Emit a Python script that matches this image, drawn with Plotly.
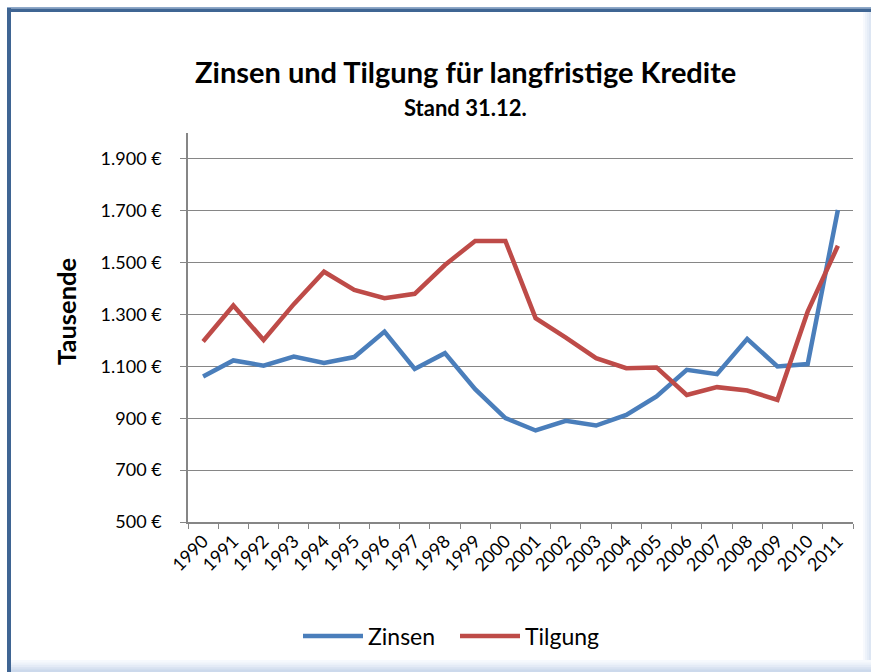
import plotly.graph_objects as go

# ---- data ----
years = [str(y) for y in range(1990, 2012)]
zinsen = [1061, 1123, 1103, 1138, 1113, 1136, 1234, 1090, 1151, 1012, 901,
          853, 890, 872, 913, 984, 1087, 1070, 1206, 1100, 1109, 1703]
tilgung = [1196, 1335, 1202, 1340, 1465, 1395, 1363, 1380, 1491, 1584, 1584,
           1286, 1211, 1132, 1093, 1096, 990, 1020, 1007, 971, 1311, 1565]
y_tickvals = [500, 700, 900, 1100, 1300, 1500, 1700, 1900]
y_ticktext = ["500 €", "700 €", "900 €", "1.100 €", "1.300 €", "1.500 €", "1.700 €", "1.900 €"]

W, H = 871, 672
L, R, T, B = 188, 18, 133, 150
PW, PH = W - L - R, H - T - B


def px(x):
    return (x - L) / PW


def py(y):
    return (H - B - y) / PH


FONT = "Lato"
BLUE = "#4a7ebb"
RED = "#be4b48"
GRID = "#868686"

fig = go.Figure()
fig.add_trace(go.Scatter(x=years, y=zinsen, name="Zinsen", mode="lines",
                         line=dict(color=BLUE, width=4.5)))
fig.add_trace(go.Scatter(x=years, y=tilgung, name="Tilgung", mode="lines",
                         line=dict(color=RED, width=4.5)))

shapes = []
# frame: top and left dark blue borders
shapes.append(dict(type="rect", xref="paper", yref="paper", x0=px(7), x1=px(871),
                   y0=py(7), y1=py(8.5), fillcolor="#8fa9c9", line=dict(width=0), layer="below"))
shapes.append(dict(type="rect", xref="paper", yref="paper", x0=px(7), x1=px(871),
                   y0=py(8.5), y1=py(12), fillcolor="#3f6593", line=dict(width=0), layer="below"))
shapes.append(dict(type="rect", xref="paper", yref="paper", x0=px(7), x1=px(11),
                   y0=py(8), y1=py(672), fillcolor="#3f6593", line=dict(width=0), layer="below"))
# right gradient
for i, c in enumerate(["#f7f9fd", "#eef3fa", "#e6edf7", "#dde6f3"]):
    shapes.append(dict(type="rect", xref="paper", yref="paper", x0=px(863 + 2 * i), x1=px(871),
                       y0=py(12), y1=py(672), fillcolor=c, line=dict(width=0), layer="below"))
# bottom gradient
for i, c in enumerate(["#f6f9fd", "#eef3fa", "#e4ebf6", "#d8e2f1", "#ccd9ec"]):
    shapes.append(dict(type="rect", xref="paper", yref="paper", x0=px(11), x1=px(871),
                       y0=py(660 + 2.4 * i), y1=py(672), fillcolor=c, line=dict(width=0), layer="below"))

annotations = [
    dict(text="<b>Zinsen und Tilgung für langfristige Kredite</b>", xref="paper", yref="paper",
         x=px(465), y=py(71), xanchor="center", yanchor="middle", showarrow=False,
         font=dict(family=FONT, size=29, color="black")),
    dict(text="<b>Stand 31.12.</b>", xref="paper", yref="paper",
         x=px(465), y=py(107), xanchor="center", yanchor="middle", showarrow=False,
         font=dict(family=FONT, size=22, color="black")),
    dict(text="<b>Tausende</b>", xref="paper", yref="paper", textangle=-90,
         x=px(66), y=py(312), xanchor="center", yanchor="middle", showarrow=False,
         font=dict(family=FONT, size=25.5, color="black")),
]

fig.update_layout(
    width=W, height=H,
    margin=dict(l=L, r=R, t=T, b=B, pad=0),
    paper_bgcolor="white", plot_bgcolor="white",
    shapes=shapes, annotations=annotations,
    showlegend=True,
    legend=dict(orientation="h", x=px(298), y=py(636), xanchor="left", yanchor="middle",
                font=dict(family=FONT, size=23, color="black"), itemwidth=60,
                entrywidth=82, entrywidthmode="pixels",
                bgcolor="rgba(0,0,0,0)", tracegroupgap=0),
    xaxis=dict(type="category", range=[-0.5, 21.5], tickson="boundaries",
               ticks="outside", ticklen=5, tickcolor=GRID, tickwidth=1.3,
               showline=True, linecolor=GRID, linewidth=1.5, showgrid=False,
               automargin=False,
               tickangle=-45, tickfont=dict(family=FONT, size=18, color="black")),
    yaxis=dict(range=[500, 2000], tickvals=y_tickvals, ticktext=y_ticktext,
               ticks="outside", ticklen=6, tickcolor=GRID, tickwidth=1.3,
               showline=True, linecolor=GRID, linewidth=1.5, automargin=False,
               ticklabelstandoff=15,
               showgrid=True, gridcolor=GRID, gridwidth=1.3, zeroline=False,
               tickfont=dict(family=FONT, size=18, color="black")),
)

fig.write_html("out.html", config={"displayModeBar": False},
               post_script="document.body.style.margin='0px';")
